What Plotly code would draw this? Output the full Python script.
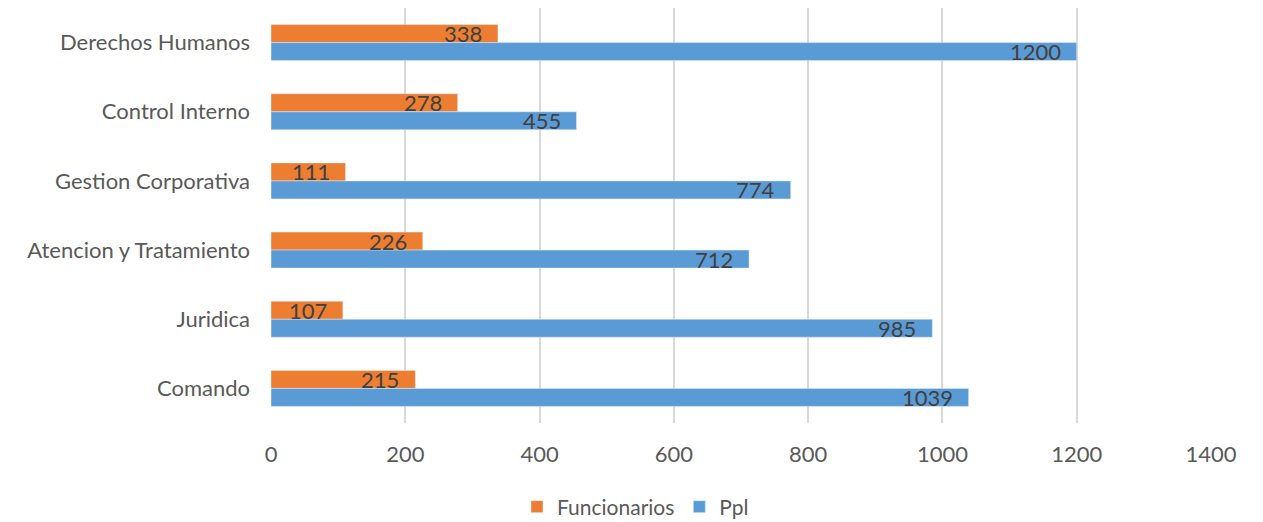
import plotly.graph_objects as go

categories = ["Derechos Humanos", "Control Interno", "Gestion Corporativa",
              "Atencion y Tratamiento", "Juridica", "Comando"]
funcionarios = [338, 278, 111, 226, 107, 215]
ppl = [1200, 455, 774, 712, 985, 1039]
x_ticks = [0, 200, 400, 600, 800, 1000, 1200, 1400]

FONT = "Lato"
FS = 22
W, H = 1255, 514

fig = go.Figure()
fig.add_trace(go.Bar(
    y=categories, x=funcionarios, orientation="h", name="Funcionarios",
    marker=dict(color="#ED7D31"), hoverinfo="skip",
))
fig.add_trace(go.Bar(
    y=categories, x=ppl, orientation="h", name="Ppl",
    marker=dict(color="#5B9BD5"), hoverinfo="skip",
))

annotations = []
for series, shift in ((funcionarios, 9), (ppl, -9)):
    for cat, v in zip(categories, series):
        annotations.append(dict(
            x=v, y=cat, xref="x", yref="y", text=str(v), showarrow=False,
            xanchor="right", yanchor="middle", xshift=-14, yshift=shift,
            font=dict(family=FONT, size=FS, color="#404040"),
        ))

fig.update_layout(
    width=W, height=H,
    margin=dict(l=263, r=52, t=0, b=99, autoexpand=False),
    paper_bgcolor="white", plot_bgcolor="white",
    barmode="group", bargap=0.48, bargroupgap=0,
    font=dict(family=FONT, size=FS, color="#595959"),
    showlegend=True,
    annotations=annotations,
    legend=dict(orientation="h", x=0.5, xref="container", xanchor="center",
                y=15 / H, yref="container", yanchor="middle",
                font=dict(family=FONT, size=FS - 1, color="#595959"),
                traceorder="normal"),
    xaxis=dict(range=[0, 1400], tickvals=x_ticks, showgrid=True,
               gridcolor="#D9D9D9", gridwidth=2, zeroline=False,
               showline=False, ticks="", automargin=False,
               ticklabelstandoff=16,
               tickfont=dict(size=FS, color="#595959")),
    yaxis=dict(autorange="reversed", showgrid=False, showline=False, ticks="",
               automargin=False, ticklabelstandoff=20,
               tickfont=dict(size=FS, color="#595959")),
)

fig.write_html("out.html")
